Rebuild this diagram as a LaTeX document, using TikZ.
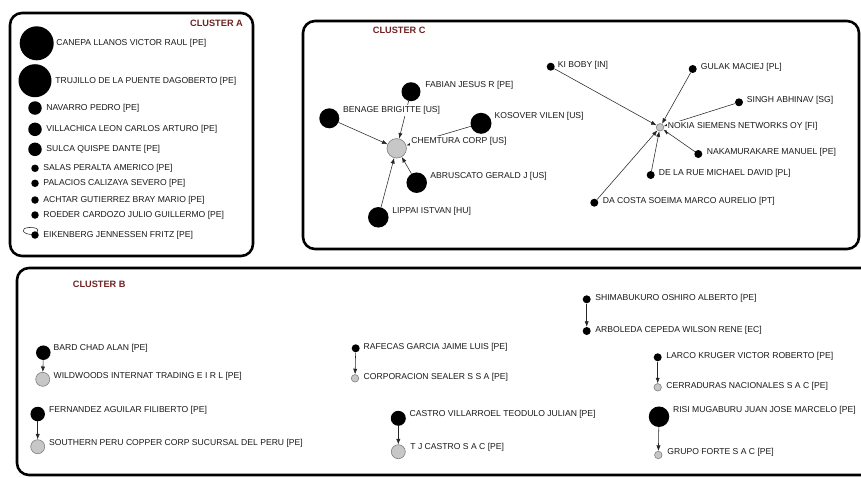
\documentclass[tikz,border=0pt]{standalone}
\usepackage{fontspec}
\setmainfont{Liberation Sans}
\usetikzlibrary{arrows.meta}
\definecolor{titlered}{RGB}{112,34,34}
\newcommand\lblfont{\fontsize{8.6}{10}\selectfont}
\newcommand\ttlfont{\fontsize{9.2}{10}\selectfont\bfseries}
\tikzset{
 bn/.style={circle, fill=black, inner sep=0pt, draw=none},
 gn/.style={circle, fill=black!22, draw=black!50, line width=0.6pt, inner sep=0pt},
 lbl/.style={anchor=west, inner sep=1.2pt, fill=white, text=black!90, font=\lblfont},
 ttl/.style={anchor=west, font=\ttlfont, text=titlered, inner sep=0pt},
 cbox/.style={draw=black, line width=2.6pt, rounded corners=12pt},
 arr/.style={draw=black!85, line width=0.55pt, -{Latex[length=5.5pt,width=4.2pt]}},
 edg/.style={draw=black!85, line width=0.55pt},
}
\begin{document}
\begin{tikzpicture}[x=1pt,y=-1pt]
\useasboundingbox (0,0) rectangle (861,477);
\fill[white] (0,0) rectangle (861,477);
% ---------- cluster boxes ----------
\draw[cbox] (10,13) rectangle (253,256);
\draw[cbox] (303,21) rectangle (859,249);
\begin{scope}
\clip (0,0) rectangle (861,477);
\draw[cbox] (17,268) rectangle (880,475);
\end{scope}
\node[ttl] (ta) at (190,23) {CLUSTER A};
\node[ttl] (tc) at (372.7,30.7) {CLUSTER C};
\node[ttl] (tb) at (72.7,284) {CLUSTER B};
% ---------- cluster A ----------
\node[bn, minimum size=34] (canepa) at (36.7,43.3) {};
\node[bn, minimum size=33] (trujillo) at (35,80.7) {};
\node[bn, minimum size=13.5] (navarro) at (35,108) {};
\node[bn, minimum size=13.5] (villa) at (35,129.3) {};
\node[bn, minimum size=13.5] (sulca) at (35,149.3) {};
\node[bn, minimum size=7.5] (salas) at (35,168.3) {};
\node[bn, minimum size=7.5] (pala) at (35,183.3) {};
\node[bn, minimum size=7.5] (achtar) at (35,200) {};
\node[bn, minimum size=7.5] (roeder) at (35,215) {};
\draw[edg] (31.5,234.5) .. controls (22,234) and (20,228) .. (29,227.5) .. controls (35,227) and (40,229) .. (37,232);
\node[bn, minimum size=7.5] (eik) at (35,235) {};
\node[lbl] (canepaL) at (55,43) {CANEPA LLANOS VICTOR RAUL [PE]};
\node[lbl] (trujilloL) at (54,81) {TRUJILLO DE LA PUENTE DAGOBERTO [PE]};
\node[lbl] (navarroL) at (45,108) {NAVARRO PEDRO [PE]};
\node[lbl] (villaL) at (45,129.5) {VILLACHICA LEON CARLOS ARTURO [PE]};
\node[lbl] (sulcaL) at (45,149) {SULCA QUISPE DANTE [PE]};
\node[lbl] (salasL) at (42,168) {SALAS PERALTA AMERICO [PE]};
\node[lbl] (palaL) at (42,183.3) {PALACIOS CALIZAYA SEVERO [PE]};
\node[lbl] (achtarL) at (42,200) {ACHTAR GUTIERREZ BRAY MARIO [PE]};
\node[lbl] (roederL) at (42,215) {ROEDER CARDOZO JULIO GUILLERMO [PE]};
\node[lbl] (eikL) at (42,235) {EIKENBERG JENNESSEN FRITZ [PE]};
% ---------- cluster C, left star ----------
\node[bn, minimum size=19] (fabian) at (411,91.7) {};
\node[bn, minimum size=20] (benage) at (329.3,118.3) {};
\node[bn, minimum size=21] (kosover) at (481,123.3) {};
\node[gn, minimum size=19.5] (chem) at (396.7,148.3) {};
\node[bn, minimum size=20.5] (abrus) at (416.7,182.7) {};
\node[bn, minimum size=20.5] (lippai) at (378.3,217.3) {};
\draw[arr] (fabian) -- (chem);
\draw[arr] (benage) -- (chem);
\draw[arr] (kosover) -- (chem);
\draw[arr] (abrus) -- (chem);
\draw[arr] (lippai) -- (chem);
% ---------- cluster C, right star ----------
\node[bn, minimum size=8] (kiboby) at (550.7,66.7) {};
\node[gn, minimum size=7.5] (nokia) at (660,127.3) {};
\node[bn, minimum size=8] (gulak) at (692.7,69) {};
\node[bn, minimum size=8] (singh) at (739,102.3) {};
\node[bn, minimum size=8] (naka) at (698.3,154) {};
\node[bn, minimum size=8] (delarue) at (650.7,175) {};
\node[bn, minimum size=8] (dacosta) at (594.3,202.7) {};
\draw[arr] (kiboby) -- (nokia);
\draw[arr] (gulak) -- (nokia);
\draw[arr] (singh) -- (nokia);
\draw[arr] (naka) -- (nokia);
\draw[arr] (delarue) -- (nokia);
\draw[arr] (dacosta) -- (nokia);
\node[lbl] (fabianL) at (424,85) {FABIAN JESUS R [PE]};
\node[lbl] (benageL) at (341.7,110.7) {BENAGE BRIGITTE [US]};
\node[lbl] (kosoverL) at (493.3,116.7) {KOSOVER VILEN [US]};
\node[lbl] (chemL) at (410,141.7) {CHEMTURA CORP [US]};
\node[lbl] (abrusL) at (429,176.7) {ABRUSCATO GERALD J [US]};
\node[lbl] (lippaiL) at (391,211) {LIPPAI ISTVAN [HU]};
\node[lbl] (kibobyL) at (556.5,65) {KI BOBY [IN]};
\node[lbl] (nokiaL) at (666.5,126.7) {NOKIA SIEMENS NETWORKS OY [FI]};
\node[lbl] (gulakL) at (699.5,67.3) {GULAK MACIEJ [PL]};
\node[lbl] (singhL) at (745.5,100.7) {SINGH ABHINAV [SG]};
\node[lbl] (nakaL) at (705.5,152.7) {NAKAMURAKARE MANUEL [PE]};
\node[lbl] (delarueL) at (657.5,173.7) {DE LA RUE MICHAEL DAVID [PL]};
\node[lbl] (dacostaL) at (601.5,201.7) {DA COSTA SOEIMA MARCO AURELIO [PT]};
% ---------- cluster B ----------
\node[bn, minimum size=14.5] (bard) at (43.3,352.7) {};
\node[gn, minimum size=14] (wild) at (42.7,379.3) {};
\node[bn, minimum size=14.5] (fern) at (37.7,414) {};
\node[gn, minimum size=14] (south) at (37.7,446.7) {};
\node[bn, minimum size=8] (rafecas) at (355.7,348.3) {};
\node[gn, minimum size=7.5] (corp) at (355,378.3) {};
\node[bn, minimum size=15] (castro) at (398.3,418.3) {};
\node[gn, minimum size=14] (tj) at (398.3,451.7) {};
\node[bn, minimum size=8] (shima) at (586.7,299.3) {};
\node[bn, minimum size=8] (arbo) at (586.7,331) {};
\node[bn, minimum size=8] (larco) at (657.7,357.3) {};
\node[gn, minimum size=7.5] (cerra) at (657.7,387.3) {};
\node[bn, minimum size=20.5] (risi) at (659,416.7) {};
\node[gn, minimum size=7.5] (grupo) at (658.3,455) {};
\draw[arr] (bard) -- (wild);
\draw[arr] (fern) -- (south);
\draw[arr] (rafecas) -- (corp);
\draw[arr] (castro) -- (tj);
\draw[arr] (shima) -- (arbo);
\draw[arr] (larco) -- (cerra);
\draw[arr] (risi) -- (grupo);
\node[lbl] (bardL) at (52.3,348.3) {BARD CHAD ALAN [PE]};
\node[lbl] (wildL) at (52.3,376.7) {WILDWOODS INTERNAT TRADING E I R L [PE]};
\node[lbl] (fernL) at (47.7,410) {FERNANDEZ AGUILAR FILIBERTO [PE]};
\node[lbl] (southL) at (47.7,443.3) {SOUTHERN PERU COPPER CORP SUCURSAL DEL PERU [PE]};
\node[lbl] (rafecasL) at (362.3,347.3) {RAFECAS GARCIA JAIME LUIS [PE]};
\node[lbl] (corpL) at (362.3,377.3) {CORPORACION SEALER S S A [PE]};
\node[lbl] (castroL) at (408.3,414) {CASTRO VILLARROEL TEODULO JULIAN [PE]};
\node[lbl] (tjL) at (409,447.3) {T J CASTRO S A C [PE]};
\node[lbl] (shimaL) at (594,298.3) {SHIMABUKURO OSHIRO ALBERTO [PE]};
\node[lbl] (arboL) at (594,330) {ARBOLEDA CEPEDA WILSON RENE [EC]};
\node[lbl] (larcoL) at (665,356.7) {LARCO KRUGER VICTOR ROBERTO [PE]};
\node[lbl] (cerraL) at (665,386.7) {CERRADURAS NACIONALES S A C [PE]};
\node[lbl] (risiL) at (671.7,410) {RISI MUGABURU JUAN JOSE MARCELO [PE]};
\node[lbl] (grupoL) at (666,452.7) {GRUPO FORTE S A C [PE]};
\end{tikzpicture}
\end{document}
